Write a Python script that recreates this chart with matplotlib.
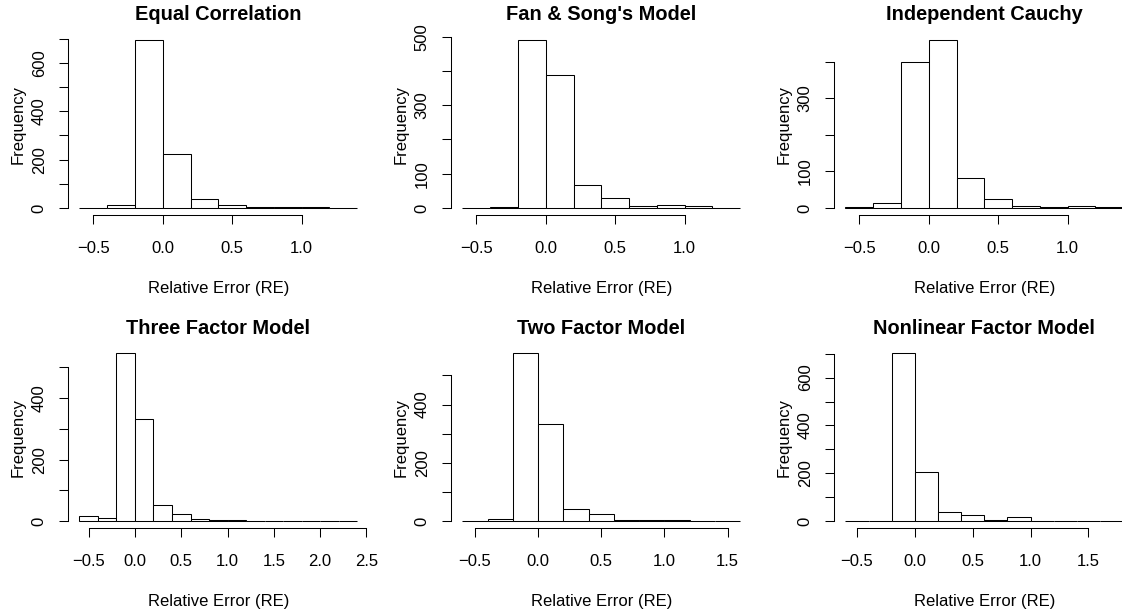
import matplotlib
matplotlib.use("Agg")
import matplotlib.pyplot as plt
import numpy as np

plt.rcParams['font.family'] = ['Liberation Sans', 'DejaVu Sans']

titles = ["Equal Correlation", "Fan & Song's Model", "Independent Cauchy",
          "Three Factor Model", "Two Factor Model", "Nonlinear Factor Model"]

bin_width = 0.2
bin_start = -0.6

counts_equal = [2, 14, 694, 222, 37, 11, 4, 5, 4, 1]
counts_fansong = [1, 3, 490, 387, 68, 28, 5, 9, 6, 1]
counts_cauchy = [3, 13, 399, 459, 82, 25, 5, 4, 5, 2]
counts_three = [16, 10, 545, 332, 53, 25, 7, 5, 3, 0, 1, 2, 0, 1, 1]
counts_two = [2, 8, 575, 332, 42, 24, 3, 5, 3, 0, 2]
counts_nonlin = [1, 3, 701, 207, 37, 26, 4, 19, 1, 0, 0, 1]

all_counts = [counts_equal, counts_fansong, counts_cauchy,
              counts_three, counts_two, counts_nonlin]

xticks_list = [
    [-0.5, 0.0, 0.5, 1.0],
    [-0.5, 0.0, 0.5, 1.0],
    [-0.5, 0.0, 0.5, 1.0],
    [-0.5, 0.0, 0.5, 1.0, 1.5, 2.0, 2.5],
    [-0.5, 0.0, 0.5, 1.0, 1.5],
    [-0.5, 0.0, 0.5, 1.0, 1.5],
]
ytick_max = [700, 500, 400, 500, 500, 700]
ytick_shown = [
    [0, 200, 400, 600],
    [0, 100, 300, 500],
    [0, 100, 300],
    [0, 200, 400],
    [0, 200, 400],
    [0, 200, 400, 600],
]

xlabel = "Relative Error (RE)"
ylabel = "Frequency"

W, H = 1122, 613
fig = plt.figure(figsize=(W / 100, H / 100), dpi=100)

lefts = [68.3, 451.3, 834.3]
width_px = 300.0
bottoms = [214.7, 528.0]
height_px = 181.3

lw = 0.75
fs = 12

for i, (title, counts) in enumerate(zip(titles, all_counts)):
    r, c = divmod(i, 3)
    ax = fig.add_axes([lefts[c] / W, 1 - bottoms[r] / H, width_px / W, height_px / H])
    n = len(counts)
    edges = bin_start + bin_width * np.arange(n + 1)
    ax.bar(edges[:-1], counts, width=bin_width, align='edge',
           facecolor='white', edgecolor='black', linewidth=lw)
    x0, x1 = edges[0], edges[-1]
    dx = 0.04 * (x1 - x0)
    ax.set_xlim(x0 - dx, x1 + dx)
    ymax = max(counts)
    ax.set_ylim(-0.04 * ymax, 1.04 * ymax)

    for s in ['top', 'right']:
        ax.spines[s].set_visible(False)
    for s in ['bottom', 'left']:
        ax.spines[s].set_linewidth(lw)

    xt = xticks_list[i]
    ax.set_xticks(xt)
    ax.set_xticklabels([("−%.1f" % -v) if v < 0 else ("%.1f" % v) for v in xt])
    ax.spines['bottom'].set_bounds(xt[0], xt[-1])

    yt = list(range(0, ytick_max[i] + 1, 100))
    ax.set_yticks(yt)
    ax.set_yticklabels([str(v) if v in ytick_shown[i] else "" for v in yt],
                       rotation=90, va='center')
    ax.spines['left'].set_bounds(0, ytick_max[i])

    ax.tick_params(axis='both', direction='out', length=6.5, width=lw,
                   labelsize=fs, colors='black')
    ax.tick_params(axis='x', pad=12.5)
    ax.tick_params(axis='y', pad=9)

    ax.text(0.5, 1 + 18.5 / height_px, title, transform=ax.transAxes,
            ha='center', va='center', fontsize=14.4, fontweight='bold')
    ax.text(0.5, -73.5 / height_px, xlabel, transform=ax.transAxes,
            ha='center', va='center', fontsize=fs)
    ax.text(-50.0 / width_px, 0.5, ylabel, transform=ax.transAxes,
            ha='center', va='center', fontsize=fs, rotation=90)

fig.savefig("out.png", dpi=100)
